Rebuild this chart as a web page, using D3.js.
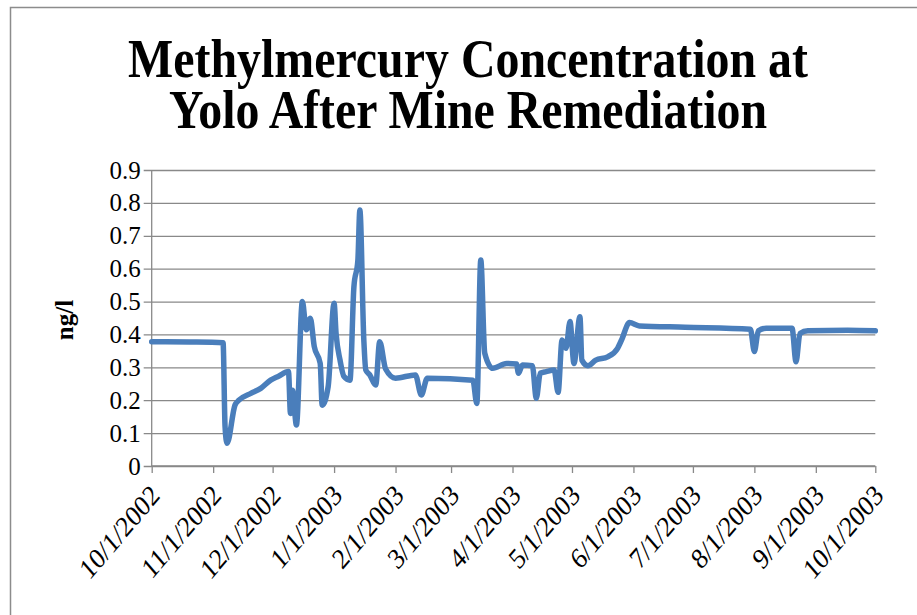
<!DOCTYPE html>
<html>
<head>
<meta charset="utf-8">
<script src="https://cdn.jsdelivr.net/npm/d3@7"></script>
<style>
  html, body { margin: 0; padding: 0; background: #ffffff; }
  svg { display: block; }
  svg text { font-family: "Liberation Serif", "Times New Roman", serif !important; fill: #000; }
</style>
</head>
<body>
<svg id="chart" width="917" height="615"></svg>
<script>
// Sample dates and methylmercury concentrations (ng/l)
const sampleDates = [
  "2002-10-01","2002-10-20","2002-11-06","2002-11-07","2002-11-08","2002-11-12",
  "2002-11-14","2002-11-20","2002-11-25","2002-11-30","2002-12-04","2002-12-09",
  "2002-12-10","2002-12-11","2002-12-13","2002-12-16","2002-12-18","2002-12-20",
  "2002-12-22","2002-12-25","2002-12-26","2002-12-29","2003-01-01","2003-01-02",
  "2003-01-04","2003-01-06","2003-01-09","2003-01-11","2003-01-13","2003-01-14",
  "2003-01-16","2003-01-17","2003-01-19","2003-01-22","2003-01-24","2003-01-27",
  "2003-02-01","2003-02-11","2003-02-14","2003-02-17","2003-03-12","2003-03-14",
  "2003-03-16","2003-03-18","2003-03-22","2003-03-29","2003-04-03","2003-04-04",
  "2003-04-06","2003-04-11","2003-04-13","2003-04-15","2003-04-18","2003-04-22",
  "2003-04-24","2003-04-26","2003-04-28","2003-04-30","2003-05-02","2003-05-05",
  "2003-05-06","2003-05-09","2003-05-13","2003-05-19","2003-05-24","2003-05-26",
  "2003-05-30","2003-06-04","2003-06-27","2003-07-30","2003-08-01","2003-08-03",
  "2003-08-07","2003-08-20","2003-08-22","2003-08-24","2003-08-28","2003-09-17",
  "2003-10-01"
];
const concentration = [
  0.378, 0.377, 0.375, 0.120, 0.069, 0.185,
  0.200, 0.221, 0.236, 0.261, 0.273, 0.287,
  0.160, 0.230, 0.125, 0.500, 0.414, 0.449,
  0.363, 0.312, 0.185, 0.241, 0.495, 0.403,
  0.322, 0.272, 0.261, 0.545, 0.626, 0.778,
  0.383, 0.292, 0.277, 0.246, 0.378, 0.295,
  0.267, 0.277, 0.216, 0.267, 0.261, 0.190,
  0.626, 0.343, 0.297, 0.312, 0.310, 0.282,
  0.307, 0.305, 0.206, 0.282, 0.287, 0.292,
  0.224, 0.383, 0.358, 0.439, 0.312, 0.454,
  0.322, 0.305, 0.322, 0.332, 0.358, 0.383,
  0.436, 0.426, 0.422, 0.416, 0.348, 0.411,
  0.419, 0.419, 0.317, 0.403, 0.411, 0.413,
  0.411
];
const yTicks = [0, 0.1, 0.2, 0.3, 0.4, 0.5, 0.6, 0.7, 0.8, 0.9];
const xStart = "2002-10-01";
const xEnd = "2003-10-01";
const titleLines = ["Methylmercury Concentration at", "Yolo After Mine Remediation"];
const yAxisTitle = "ng/l";

const parse = d3.utcParse("%Y-%m-%d");
const data = sampleDates.map((d, i) => ({ date: parse(d), value: concentration[i] }));

const serif = "'Liberation Serif', 'Times New Roman', serif";
const svg = d3.select("#chart");
const W = 917, H = 615;
const plot = { left: 151.7, right: 875.3, top: 170, bottom: 466 };
const gridColor = "#898989";

svg.append("rect").attr("width", W).attr("height", H).attr("fill", "#ffffff");

// chart frame (left and top edges)
svg.append("path")
  .attr("d", `M10.5,${H} V7.5 H${W}`)
  .attr("fill", "none")
  .attr("stroke", "#8c8c8c")
  .attr("stroke-width", 1.5);

const x = d3.scaleUtc().domain([parse(xStart), parse(xEnd)]).range([plot.left, plot.right]);
const y = d3.scaleLinear().domain([0, 0.9]).range([plot.bottom, plot.top]);

// title: two condensed, slightly tall lines
const title = svg.append("g");
const titleY = [77, 128];
const titleWidth = [680, 598];
titleLines.forEach((t, i) => {
  title.append("text")
    .attr("transform", `translate(468,${titleY[i]}) scale(1,1.1)`)
    .attr("text-anchor", "middle")
    .attr("font-weight", "bold")
    .attr("font-size", 49)
    .style("font-family", serif)
    .attr("textLength", titleWidth[i])
    .attr("lengthAdjust", "spacingAndGlyphs")
    .text(t);
});

// y axis with gridlines
const yAxis = d3.axisLeft(y)
  .tickValues(yTicks)
  .tickSize(-(plot.right - plot.left) - 8)
  .tickPadding(3)
  .tickFormat(d => d === 0 ? "0" : d3.format(".1f")(d));

const gy = svg.append("g")
  .attr("transform", `translate(${plot.left - 8},0)`)
  .call(yAxis)
  .attr("font-family", null);
gy.select(".domain").remove();
gy.selectAll(".tick line").attr("stroke", gridColor).attr("stroke-width", 1.3);
gy.selectAll(".tick text")
  .attr("font-size", 25)
  .style("font-family", serif)
  .attr("fill", "#000");

// y axis line
svg.append("line")
  .attr("x1", plot.left).attr("x2", plot.left)
  .attr("y1", plot.top).attr("y2", plot.bottom)
  .attr("stroke", gridColor).attr("stroke-width", 1.3);

// x axis
const xAxis = d3.axisBottom(x)
  .ticks(d3.utcMonth.every(1))
  .tickSize(7)
  .tickFormat(d3.utcFormat("%-m/%-d/%Y"));

const gx = svg.append("g")
  .attr("transform", `translate(0,${plot.bottom})`)
  .call(xAxis)
  .attr("font-family", null);
gx.select(".domain").attr("stroke", gridColor).attr("stroke-width", 1.3)
  .attr("d", `M${plot.left},0H${plot.right}`);
gx.selectAll(".tick line").attr("stroke", gridColor).attr("stroke-width", 1.3);
gx.selectAll(".tick text")
  .attr("font-size", 25)
  .style("font-family", serif)
  .attr("fill", "#000")
  .attr("text-anchor", "end")
  .attr("dy", null)
  .attr("y", null)
  .attr("transform", "translate(9,31) scale(1,1.17) rotate(-45)");

// y axis title
svg.append("text")
  .attr("transform", `translate(73,320) rotate(-90)`)
  .attr("text-anchor", "middle")
  .attr("font-weight", "bold")
  .attr("font-size", 25)
  .style("font-family", serif)
  .text(yAxisTitle);

// concentration line
const line = d3.line()
  .x(d => x(d.date))
  .y(d => y(d.value))
  .curve(d3.curveMonotoneX);

svg.append("path")
  .datum(data)
  .attr("d", line)
  .attr("fill", "none")
  .attr("stroke", "#4a7ebb")
  .attr("stroke-width", 5.5)
  .attr("stroke-linejoin", "round")
  .attr("stroke-linecap", "round");
</script>
</body>
</html>
